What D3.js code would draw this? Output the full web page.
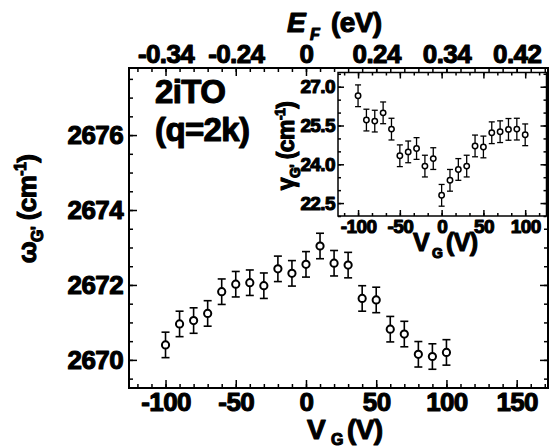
<!DOCTYPE html>
<html>
<head>
<meta charset="utf-8">
<script src="https://cdn.jsdelivr.net/npm/d3@7"></script>
<style>
  html, body { margin: 0; padding: 0; background: #fff; }
  svg text { font-family: "Liberation Sans", Arial, sans-serif; font-weight: bold; fill: #000; }
  .heavy { stroke: #000; stroke-width: 1.1px; stroke-linejoin: round; letter-spacing: -0.6px; }
</style>
</head>
<body>
<svg id="chart" width="552" height="448"></svg>
<script>
// Gate voltage (V) for each measurement
const gateVoltage = [-100, -90, -80, -70, -60, -50, -40, -30, -20, -10, 0, 10, 20, 30, 40, 50, 60, 70, 80, 90, 100];
// 2iTO (G') peak position, cm^-1
const omegaG = [2670.40, 2670.96, 2671.05, 2671.24, 2671.82, 2672.02, 2672.06, 2671.98, 2672.43, 2672.31, 2672.55,
                2673.04, 2672.58, 2672.53, 2671.64, 2671.60, 2670.82, 2670.69, 2670.15, 2670.09, 2670.20];
const omegaErr = [0.34, 0.34, 0.34, 0.34, 0.34, 0.34, 0.34, 0.34, 0.34, 0.34, 0.34,
                  0.34, 0.34, 0.34, 0.34, 0.34, 0.34, 0.34, 0.34, 0.34, 0.34];
// G' linewidth, cm^-1
const gammaG = [26.65, 25.71, 25.67, 25.99, 25.36, 24.33, 24.48, 24.61, 23.93, 24.22, 22.80,
                23.38, 23.80, 23.93, 24.71, 24.67, 25.22, 25.26, 25.35, 25.36, 25.14];
const gammaErr = [0.42, 0.42, 0.42, 0.42, 0.42, 0.42, 0.42, 0.42, 0.42, 0.42, 0.42,
                  0.42, 0.42, 0.42, 0.42, 0.42, 0.42, 0.42, 0.42, 0.42, 0.42];
// Axis ticks
const vgTicks = [-100, -50, 0, 50, 100, 150];
const efTickLabels = ["-0.34", "-0.24", "0", "0.24", "0.34", "0.42"];
const omegaTicks = [2670, 2672, 2674, 2676];
const insetVgTicks = [-100, -50, 0, 50, 100];
const gammaTicks = [22.5, 24.0, 25.5, 27.0];

const svg = d3.select("#chart");

// ---------- main panel ----------
const M = { left: 129, right: 548, top: 68, bottom: 388 };
const x = d3.scaleLinear().domain([-126, 172.3]).range([M.left, M.right]);
const y = d3.scaleLinear().domain([2669.25, 2677.79]).range([M.bottom, M.top]);

const vgMinor = d3.range(-120, 171, 10);
const omegaMinor = d3.range(2669.5, 2677.8, 0.5);

function tickAxis(axisFn, scale, values, size, fmt, pad) {
  return axisFn(scale).tickValues(values).tickSize(-size).tickPadding(pad || 0)
    .tickFormat(fmt || (() => ""));
}

function drawAxis(g, axis, fontSize) {
  g.call(axis);
  g.select(".domain").remove();
  g.selectAll(".tick line").attr("stroke", "#000").attr("stroke-width", 1.5);
  g.selectAll(".tick text").attr("font-size", fontSize).attr("class", "heavy")
    .style("font-family", "'Liberation Sans', Arial, sans-serif").style("font-weight", "bold")
    .attr("fill", "#000");
}

// bottom
drawAxis(svg.append("g").attr("transform", `translate(0,${M.bottom})`),
  tickAxis(d3.axisBottom, x, vgMinor, 4), 26);
drawAxis(svg.append("g").attr("transform", `translate(0,${M.bottom})`),
  tickAxis(d3.axisBottom, x, vgTicks, 8, d => d, 5), 26);
// top (Fermi energy labels at the same gate voltages)
drawAxis(svg.append("g").attr("transform", `translate(0,${M.top})`),
  tickAxis(d3.axisTop, x, vgMinor, 4), 26);
drawAxis(svg.append("g").attr("transform", `translate(0,${M.top})`),
  tickAxis(d3.axisTop, x, vgTicks, 8, (d, i) => efTickLabels[i], 5), 26);
// left
drawAxis(svg.append("g").attr("transform", `translate(${M.left},0)`),
  tickAxis(d3.axisLeft, y, omegaMinor, 4), 26);
drawAxis(svg.append("g").attr("transform", `translate(${M.left},0)`),
  tickAxis(d3.axisLeft, y, omegaTicks, 8, d => d, 6), 26);
// right
drawAxis(svg.append("g").attr("transform", `translate(${M.right},0)`),
  tickAxis(d3.axisRight, y, omegaMinor, 4), 26);
drawAxis(svg.append("g").attr("transform", `translate(${M.right},0)`),
  tickAxis(d3.axisRight, y, omegaTicks, 8), 26);

svg.append("rect")
  .attr("x", M.left).attr("y", M.top)
  .attr("width", M.right - M.left).attr("height", M.bottom - M.top)
  .attr("fill", "none").attr("stroke", "#000").attr("stroke-width", 2);

// main error bars and markers
const mainPts = gateVoltage.map((v, i) => ({ v, val: omegaG[i], err: omegaErr[i] }));
const mg = svg.append("g").attr("stroke", "#000").attr("fill", "none");
const capW = 4;
mainPts.forEach(p => {
  const cx = x(p.v), yt = y(p.val + p.err), yb = y(p.val - p.err);
  mg.append("line").attr("x1", cx).attr("x2", cx).attr("y1", yt).attr("y2", yb).attr("stroke-width", 1.6);
  mg.append("line").attr("x1", cx - capW).attr("x2", cx + capW).attr("y1", yt).attr("y2", yt).attr("stroke-width", 1.6);
  mg.append("line").attr("x1", cx - capW).attr("x2", cx + capW).attr("y1", yb).attr("y2", yb).attr("stroke-width", 1.6);
});
mg.selectAll("circle").data(mainPts).join("circle")
  .attr("cx", d => x(d.v)).attr("cy", d => y(d.val)).attr("r", 3.6)
  .attr("fill", "#fff").attr("stroke-width", 2);

// panel labels
svg.append("text").attr("class", "heavy").attr("x", 155).attr("y", 103).attr("font-size", 33).text("2iTO");
svg.append("text").attr("class", "heavy").attr("x", 155).attr("y", 141).attr("font-size", 33).text("(q=2k)");

// top axis title: E_F (eV)
svg.append("text").attr("class", "heavy").attr("x", 287).attr("y", 32).attr("font-size", 28)
  .style("font-style", "italic").text("E");
svg.append("text").attr("class", "heavy").attr("x", 310).attr("y", 40).attr("font-size", 16)
  .style("font-style", "italic").text("F");
svg.append("text").attr("class", "heavy").attr("x", 331).attr("y", 32).attr("font-size", 28).text("(eV)");

// bottom axis title: V_G (V)
svg.append("text").attr("class", "heavy").attr("x", 307).attr("y", 439).attr("font-size", 28).text("V");
svg.append("text").attr("class", "heavy").attr("x", 331).attr("y", 445).attr("font-size", 16).text("G");
svg.append("text").attr("class", "heavy").attr("x", 347).attr("y", 439).attr("font-size", 28).text("(V)");

// rotated axis title: sym_G' (cm^-1)
function rotatedTitle(cx, cy, sym, big, small) {
  const t = svg.append("text").attr("class", "heavy")
    .attr("transform", `translate(${cx},${cy}) rotate(-90)`)
    .attr("text-anchor", "middle");
  t.append("tspan").attr("font-size", big).text(sym);
  t.append("tspan").attr("font-size", small).attr("dy", small * 0.45).text("G'");
  t.append("tspan").attr("font-size", big).attr("dy", -small * 0.45).text(" (cm");
  t.append("tspan").attr("font-size", small).attr("dy", -big * 0.4).text("-1");
  t.append("tspan").attr("font-size", big).attr("dy", big * 0.4).text(")");
}
rotatedTitle(36, 209, "ω", 26, 16);

// ---------- inset ----------
const I = { left: 338, right: 546.5, top: 72.5, bottom: 216 };
const xi = d3.scaleLinear().domain([-124, 125.5]).range([I.left, I.right]);
const yi = d3.scaleLinear().domain([22.0, 27.55]).range([I.bottom, I.top]);

svg.append("rect")
  .attr("x", I.left).attr("y", I.top)
  .attr("width", I.right - I.left).attr("height", I.bottom - I.top)
  .attr("fill", "#fff");

const insetVgMinor = d3.range(-350 / 3, 125, 50 / 3);
const gammaMinor = d3.range(22.0, 27.6, 0.5);

drawAxis(svg.append("g").attr("transform", `translate(0,${I.bottom})`),
  tickAxis(d3.axisBottom, xi, insetVgMinor, 3), 19);
drawAxis(svg.append("g").attr("transform", `translate(0,${I.bottom})`),
  tickAxis(d3.axisBottom, xi, insetVgTicks, 6, d => d, 3), 19);
drawAxis(svg.append("g").attr("transform", `translate(0,${I.top})`),
  tickAxis(d3.axisTop, xi, insetVgMinor, 3), 19);
drawAxis(svg.append("g").attr("transform", `translate(0,${I.top})`),
  tickAxis(d3.axisTop, xi, insetVgTicks, 6), 19);
drawAxis(svg.append("g").attr("transform", `translate(${I.left},0)`),
  tickAxis(d3.axisLeft, yi, gammaMinor, 3), 19);
drawAxis(svg.append("g").attr("transform", `translate(${I.left},0)`),
  tickAxis(d3.axisLeft, yi, gammaTicks, 6, d3.format(".1f"), 3), 19);
drawAxis(svg.append("g").attr("transform", `translate(${I.right},0)`),
  tickAxis(d3.axisRight, yi, gammaMinor, 3), 19);
drawAxis(svg.append("g").attr("transform", `translate(${I.right},0)`),
  tickAxis(d3.axisRight, yi, gammaTicks, 6), 19);

svg.append("rect")
  .attr("x", I.left).attr("y", I.top)
  .attr("width", I.right - I.left).attr("height", I.bottom - I.top)
  .attr("fill", "none").attr("stroke", "#000").attr("stroke-width", 1.5);

const insetPts = gateVoltage.map((v, i) => ({ v, val: gammaG[i], err: gammaErr[i] }));
const ig = svg.append("g").attr("stroke", "#000").attr("fill", "none");
const capWi = 3;
insetPts.forEach(p => {
  const cx = xi(p.v), yt = yi(p.val + p.err), yb = yi(p.val - p.err);
  ig.append("line").attr("x1", cx).attr("x2", cx).attr("y1", yt).attr("y2", yb).attr("stroke-width", 1.3);
  ig.append("line").attr("x1", cx - capWi).attr("x2", cx + capWi).attr("y1", yt).attr("y2", yt).attr("stroke-width", 1.3);
  ig.append("line").attr("x1", cx - capWi).attr("x2", cx + capWi).attr("y1", yb).attr("y2", yb).attr("stroke-width", 1.3);
});
ig.selectAll("circle").data(insetPts).join("circle")
  .attr("cx", d => xi(d.v)).attr("cy", d => yi(d.val)).attr("r", 2.7)
  .attr("fill", "#fff").attr("stroke-width", 1.5);

// inset axis titles
svg.append("text").attr("class", "heavy").attr("x", 413).attr("y", 251).attr("font-size", 25).text("V");
svg.append("text").attr("class", "heavy").attr("x", 432).attr("y", 258).attr("font-size", 14).text("G");
svg.append("text").attr("class", "heavy").attr("x", 446).attr("y", 251).attr("font-size", 25).text("(V)");
rotatedTitle(294, 146, "γ", 23, 14);
</script>
</body>
</html>
